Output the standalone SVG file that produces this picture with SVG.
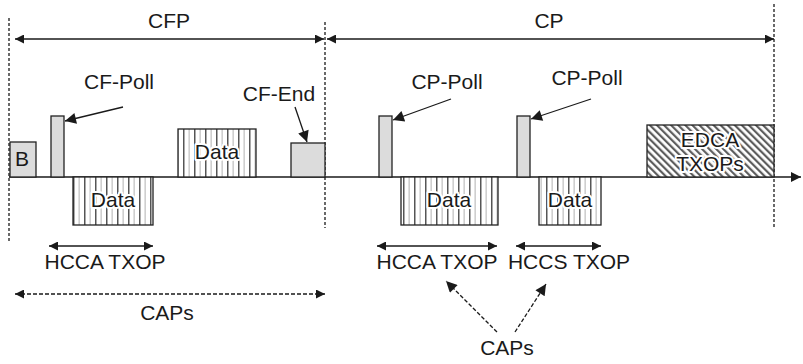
<svg xmlns="http://www.w3.org/2000/svg" width="803" height="364" viewBox="0 0 803 364">
<style>
text{font-family:"Liberation Sans",Arial,sans-serif;font-size:21px;fill:#1a1a1a;text-anchor:middle}
.halo{stroke:#fff;stroke-width:4;paint-order:stroke;stroke-linejoin:round}
.box{stroke:#222;stroke-width:1.3}
.solid{fill:#dcdcdc}
.vs{fill:url(#vstripe)}
.hs{fill:url(#hatch)}
.ln{stroke:#1a1a1a;stroke-width:1.3;fill:none}
.vd{stroke:#1a1a1a;stroke-width:1.3;stroke-dasharray:3,2;fill:none}
.dd{stroke:#1a1a1a;stroke-width:1.3;stroke-dasharray:4,2;fill:none}
</style>
<defs>
<pattern id="vstripe" patternUnits="userSpaceOnUse" width="11" height="10">
<rect width="11" height="10" fill="#fff"/>
<rect x="1.5" width="1.3" height="10" fill="#c4c4c4"/>
<rect x="7" width="1.5" height="10" fill="#555"/>
</pattern>
<pattern id="hatch" patternUnits="userSpaceOnUse" width="5" height="10" patternTransform="rotate(-45)">
<rect width="5" height="10" fill="#fff"/>
<rect x="0" width="2.2" height="10" fill="#5e5e5e"/>
</pattern>
<marker id="ah" viewBox="0 0 10 10" refX="10" refY="5" markerWidth="9" markerHeight="9" markerUnits="userSpaceOnUse" orient="auto-start-reverse">
<path d="M0,0L10,5L0,10z" fill="#1a1a1a"/>
</marker>
<marker id="ahb" viewBox="0 0 10 10" refX="10" refY="5" markerWidth="11" markerHeight="10" markerUnits="userSpaceOnUse" orient="auto">
<path d="M0,0L10,5L0,10z" fill="#1a1a1a"/>
</marker>
<marker id="ahc" viewBox="0 0 10 10" refX="10" refY="5" markerWidth="13" markerHeight="11" markerUnits="userSpaceOnUse" orient="auto">
<path d="M0,0L10,5L0,10z" fill="#1a1a1a"/>
</marker>
</defs>

<g id="connectors">
<line class="vd" x1="9" y1="18" x2="9" y2="242"/>
<line class="vd" x1="325" y1="22" x2="325" y2="228"/>
<line class="vd" x1="774" y1="4" x2="774" y2="229"/>
<line class="ln" x1="15" y1="39" x2="324" y2="39" marker-start="url(#ah)" marker-end="url(#ah)"/>
<line class="ln" x1="327" y1="39" x2="774" y2="39" marker-start="url(#ah)" marker-end="url(#ah)"/>
<line class="ln" x1="9" y1="177" x2="801" y2="177" marker-end="url(#ahb)"/>
<line class="ln" x1="123" y1="107" x2="65" y2="121" marker-end="url(#ahc)"/>
<line class="ln" x1="295" y1="107" x2="307" y2="142" marker-end="url(#ahc)"/>
<line class="ln" x1="451" y1="99" x2="393" y2="120" marker-end="url(#ahc)"/>
<line class="ln" x1="591" y1="99" x2="531" y2="119" marker-end="url(#ahc)"/>
<line class="ln" x1="49" y1="246" x2="153" y2="246" marker-start="url(#ah)" marker-end="url(#ah)"/>
<line class="ln" x1="377" y1="246" x2="497" y2="246" marker-start="url(#ah)" marker-end="url(#ah)"/>
<line class="ln" x1="516" y1="246" x2="601" y2="246" marker-start="url(#ah)" marker-end="url(#ah)"/>
<line class="dd" x1="15" y1="294" x2="325" y2="294" marker-start="url(#ah)" marker-end="url(#ah)"/>
<line class="dd" x1="497" y1="332" x2="446" y2="281" marker-end="url(#ahc)"/>
<line class="dd" x1="515" y1="332" x2="546" y2="284" marker-end="url(#ahc)"/>
</g>

<g id="label-cfp"><text x="169" y="28">CFP</text></g>
<g id="label-cp"><text x="549" y="28">CP</text></g>

<g id="beacon"><rect class="box solid" x="10" y="142" width="26" height="35"/><text x="22" y="166">B</text></g>
<g id="cf-poll"><rect class="box solid" x="51" y="116" width="13" height="61"/><text x="119" y="89">CF-Poll</text></g>
<g id="data1"><rect class="box vs" x="73" y="177" width="80" height="48"/><text class="halo" x="113" y="207">Data</text></g>
<g id="data2"><rect class="box vs" x="178" y="129" width="78" height="48"/><text class="halo" x="217" y="159">Data</text></g>
<g id="cf-end"><rect class="box solid" x="291" y="143" width="34" height="34"/><text x="279" y="101">CF-End</text></g>
<g id="cp-poll1"><rect class="box solid" x="379" y="116" width="13" height="61"/><text x="447" y="89">CP-Poll</text></g>
<g id="data3"><rect class="box vs" x="401" y="177" width="97" height="48"/><text class="halo" x="449" y="207">Data</text></g>
<g id="cp-poll2"><rect class="box solid" x="517" y="116" width="13" height="61"/><text x="587" y="85">CP-Poll</text></g>
<g id="data4"><rect class="box vs" x="539" y="177" width="62" height="48"/><text class="halo" x="570" y="207">Data</text></g>
<g id="edca"><rect class="box hs" x="647" y="125" width="127" height="52"/><text class="halo" x="710" y="147">EDCA</text><text class="halo" x="710" y="171">TXOPs</text></g>

<g id="hcca1"><text x="105" y="269">HCCA TXOP</text></g>
<g id="caps1"><text x="167" y="320">CAPs</text></g>
<g id="hcca2"><text x="437" y="269">HCCA TXOP</text></g>
<g id="hccs"><text x="569" y="269">HCCS TXOP</text></g>
<g id="caps2"><text x="507" y="355">CAPs</text></g>
</svg>
